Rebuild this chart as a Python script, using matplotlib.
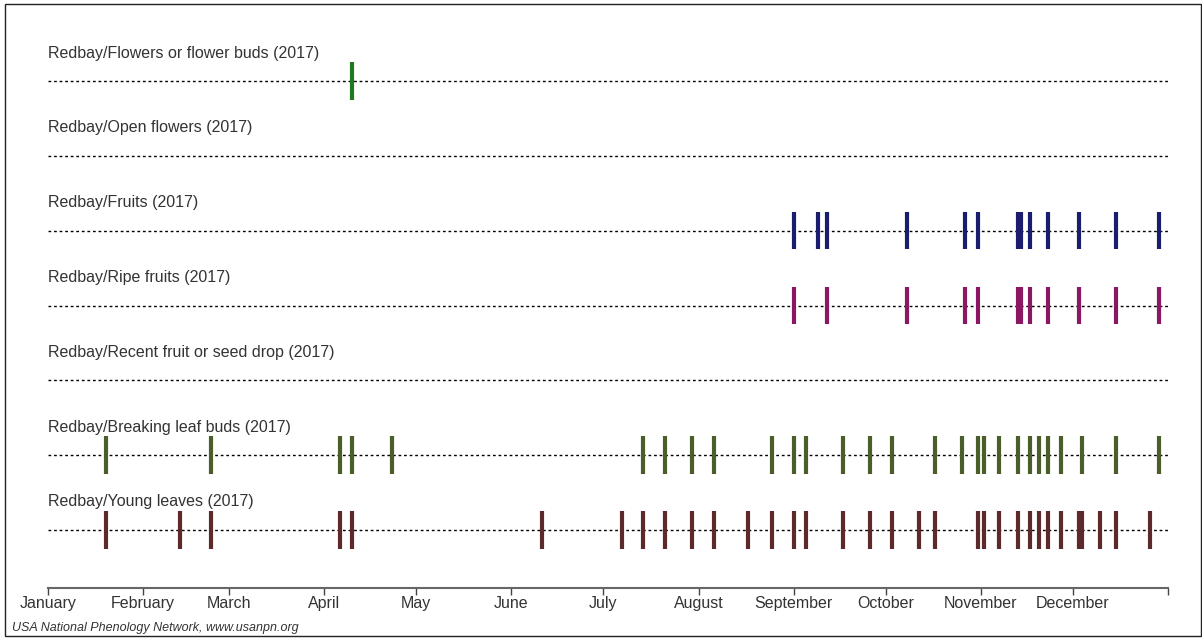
from datetime import datetime
import matplotlib
matplotlib.use('Agg')
import matplotlib.pyplot as plt
from matplotlib.patches import Rectangle

plt.rcParams['font.family'] = ['Liberation Sans', 'DejaVu Sans']

# phenophase rows (top to bottom)
labels = [
    'Redbay/Flowers or flower buds (2017)',
    'Redbay/Open flowers (2017)',
    'Redbay/Fruits (2017)',
    'Redbay/Ripe fruits (2017)',
    'Redbay/Recent fruit or seed drop (2017)',
    'Redbay/Breaking leaf buds (2017)',
    'Redbay/Young leaves (2017)',
]
colors = ['#1f7a1f', '#1f7a1f', '#1c1c6e', '#8a1762', '#555555', '#4a5e2a', '#5c2a2a']

# observation dates (month-day) per row
flower_buds = ['04-10']
open_flowers = []
fruits = ['09-01', '09-09', '09-12', '10-08', '10-27', '10-31', '11-13', '11-14',
          '11-17', '11-23', '12-03', '12-15', '12-29']
ripe_fruits = ['09-01', '09-12', '10-08', '10-27', '10-31', '11-13', '11-14',
               '11-17', '11-23', '12-03', '12-15', '12-29']
seed_drop = []
leaf_buds = ['01-20', '02-23', '04-06', '04-10', '04-23', '07-14', '07-21', '07-30',
             '08-06', '08-25', '09-01', '09-05', '09-17', '09-26', '10-03', '10-17',
             '10-26', '10-31', '11-02', '11-07', '11-13', '11-17', '11-20', '11-23',
             '11-27', '12-04', '12-15', '12-29']
young_leaves = ['01-20', '02-13', '02-23', '04-06', '04-10', '06-11', '07-07', '07-14',
                '07-21', '07-30', '08-06', '08-17', '08-25', '09-01', '09-05', '09-17',
                '09-26', '10-03', '10-12', '10-17', '10-31', '11-02', '11-07', '11-13',
                '11-17', '11-20', '11-23', '11-27', '12-03', '12-04', '12-10', '12-15',
                '12-26']
rows = [flower_buds, open_flowers, fruits, ripe_fruits, seed_drop, leaf_buds, young_leaves]

months = ['January', 'February', 'March', 'April', 'May', 'June', 'July',
          'August', 'September', 'October', 'November', 'December']

W, H = 1202, 640
fig = plt.figure(figsize=(W / 100, H / 100), dpi=100)
ax = fig.add_axes([48 / W, (H - 588) / H, (1168 - 48) / W, 588 / H])

start = datetime(2017, 1, 1)
end = datetime(2018, 1, 1)
row_px = 74.8

for i, (lab, col, obs) in enumerate(zip(labels, colors, rows)):
    y = -i
    ax.hlines(y, start, end, colors='black', linestyles=(0, (2, 2)), linewidth=1)
    ax.text(start, y + 28 / row_px, lab, va='center', ha='left', fontsize=11.5, color='#333333')
    if obs:
        d = [datetime.strptime('2017-' + s, '%Y-%m-%d') for s in obs]
        ax.vlines(d, y - 0.25, y + 0.25, colors=col, linewidth=3)

ax.set_xlim(start, end)
ax.set_ylim(-6 - 58 / row_px, 81 / row_px)

ticks = [datetime(2017, m, 1) for m in range(1, 13)] + [end]
ax.set_xticks(ticks)
ax.set_xticklabels(months + [''])
ax.tick_params(axis='x', direction='out', length=5, width=1, color='#444444',
               labelsize=11.5, labelcolor='#333333', pad=1)
ax.set_yticks([])
for s in ['top', 'right', 'left']:
    ax.spines[s].set_visible(False)
ax.spines['bottom'].set_color('#666666')
ax.spines['bottom'].set_linewidth(1.5)

fig.text(12 / W, (H - 628) / H, 'USA National Phenology Network, www.usanpn.org',
         fontsize=9, style='italic', color='#333333', va='center')

fig.add_artist(Rectangle((5 / W, 4 / H), (W - 6) / W, (H - 8) / H, transform=fig.transFigure,
                         fill=False, edgecolor='#222222', linewidth=1))

fig.savefig('out.png', dpi=100)
